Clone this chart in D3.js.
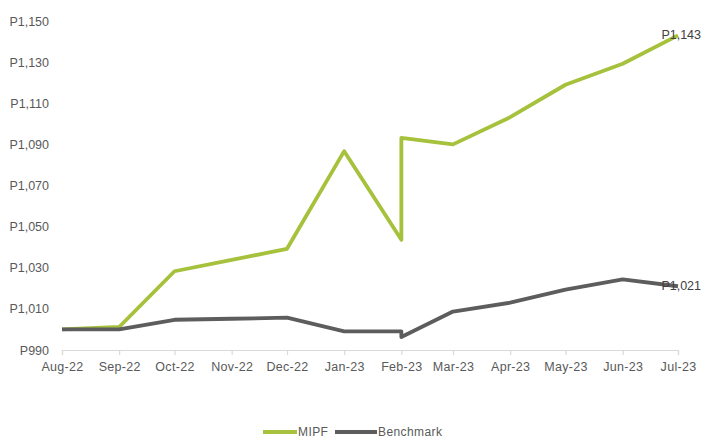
<!DOCTYPE html>
<html>
<head>
<meta charset="utf-8">
<script src="https://cdn.jsdelivr.net/npm/d3@7"></script>
<style>
  body { margin: 0; background: #fff; }
  svg text { font-family: "Liberation Sans", Arial, sans-serif; }
</style>
</head>
<body>
<div id="holder"></div>
<script>
const w = 704;
const h = 438;

// DATA
const dates = ["2022-08-01", "2022-09-01", "2022-10-01", "2022-11-01", "2022-12-01",
  "2023-01-01", "2023-02-01", "2023-02-01", "2023-03-01", "2023-04-01",
  "2023-05-01", "2023-06-01", "2023-07-01"];
const mipf = [1000, 1001.2, 1028.3, 1033.8, 1039.2, 1086.7, 1043.6, 1093.2, 1090, 1103.2, 1119, 1129.2, 1143];
const benchmark = [1000, 1000, 1004.7, 1005.2, 1005.7, 999.1, 999.1, 996.3, 1008.7, 1013, 1019.4, 1024.3, 1021];
const yTicks = [990, 1010, 1030, 1050, 1070, 1090, 1110, 1130, 1150];
const seriesNames = ["MIPF", "Benchmark"];
const colors = ["#a6c13c", "#5d5d5d"];

const parse = d3.timeParse("%Y-%m-%d");
const xDates = dates.map(parse);

const svg = d3.select("#holder")
  .append("svg")
  .attr("width", w)
  .attr("height", h);

// SCALES
const xScale = d3.scaleTime()
  .domain([parse("2022-08-01"), parse("2023-07-01")])
  .range([62, 678]);

const yScale = d3.scaleLinear()
  .domain([990, 1150])
  .range([350, 21]);

// X AXIS
const fmtMonth = d3.timeFormat("%b-%y");
const xAxis = d3.axisBottom(xScale)
  .ticks(d3.timeMonth.every(1))
  .tickSize(5)
  .tickPadding(7)
  .tickFormat(fmtMonth);

const gx = svg.append("g")
  .attr("transform", "translate(0,350)")
  .call(xAxis);
gx.select(".domain").attr("stroke", "#d9d9d9").attr("stroke-width", 1.2);
gx.selectAll(".tick line").attr("stroke", "#d9d9d9").attr("stroke-width", 1.2);
gx.selectAll(".tick text")
  .attr("fill", "#595959")
  .style("font-size", "12.5px")
  .style("letter-spacing", "0.3px");

// Y AXIS (labels only)
const yAxis = d3.axisLeft(yScale)
  .tickValues(yTicks)
  .tickSize(0)
  .tickPadding(0)
  .tickFormat(d => "P" + d3.format(",")(d));

const gy = svg.append("g")
  .attr("transform", "translate(49,0)")
  .call(yAxis);
gy.select(".domain").remove();
gy.selectAll(".tick text")
  .attr("fill", "#595959")
  .style("font-size", "12.5px");

// LINES
const line = d3.line()
  .x((d, i) => xScale(xDates[i]))
  .y(d => yScale(d));

[mipf, benchmark].forEach((s, k) => {
  svg.append("path")
    .datum(s)
    .attr("fill", "none")
    .attr("stroke", colors[k])
    .attr("stroke-width", 3.8)
    .attr("stroke-linejoin", "round")
    .attr("d", line);
});

// END LABELS
const last = dates.length - 1;
[mipf, benchmark].forEach((s, k) => {
  svg.append("text")
    .attr("x", 701)
    .attr("y", yScale(s[last]) + 4)
    .attr("text-anchor", "end")
    .attr("fill", "#404040")
    .style("font-size", "12.5px")
    .text("P" + d3.format(",")(s[last]));
});

// LEGEND
const legendX = [263, 335];
const legendLen = [34, 42];
seriesNames.forEach((name, k) => {
  svg.append("line")
    .attr("x1", legendX[k])
    .attr("x2", legendX[k] + legendLen[k])
    .attr("y1", 432)
    .attr("y2", 432)
    .attr("stroke", colors[k])
    .attr("stroke-width", 3.8);
  svg.append("text")
    .attr("x", legendX[k] + legendLen[k] + 1)
    .attr("y", 432)
    .attr("dominant-baseline", "central")
    .attr("fill", "#595959")
    .style("font-size", "12px")
    .style("letter-spacing", "0.4px")
    .text(name);
});
</script>
</body>
</html>
